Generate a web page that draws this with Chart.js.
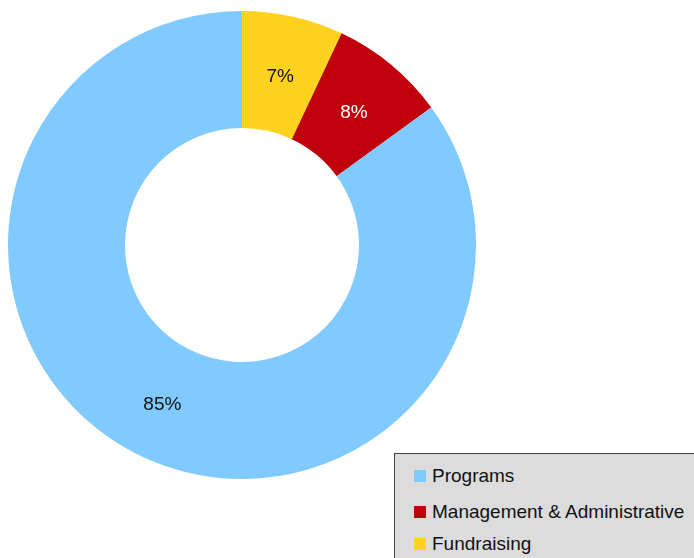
<!DOCTYPE html>
<html>
<head>
<meta charset="utf-8">
<script src="https://cdn.jsdelivr.net/npm/chart.js@4"></script>
<style>
  html, body { margin: 0; padding: 0; background: #fff; overflow: hidden; }
  #wrap { position: relative; width: 694px; height: 558px; }
  #legend {
    position: absolute; left: 394px; top: 453px; width: 320px; height: 130px;
    background: #dcdcdc; border: 1px solid #444; box-sizing: border-box;
    font-family: "Liberation Sans", Arial, sans-serif; font-size: 19px; color: #111;
  }
  #legend div { position: absolute; left: 19px; white-space: nowrap; line-height: 22px; }
  #legend span { display: inline-block; width: 12px; height: 12px; margin-right: 6px; vertical-align: 0px; }
</style>
</head>
<body>
<div id="wrap">
  <canvas id="chart" width="694" height="558"></canvas>
  <div id="legend"></div>
</div>
<script>
const chart = document.querySelector('#chart');
// drawn clockwise from 12 o'clock
const labels = ['Fundraising', 'Management & Administrative', 'Programs'];
const data = [7, 8, 85];
const colors = ['#ffd21f', '#c0000a', '#80caff'];
const labelColors = ['#111', '#fff', '#111'];

const sliceLabels = {
    id: 'sliceLabels',
    afterDatasetsDraw(c) {
        const ctx = c.ctx;
        const meta = c.getDatasetMeta(0);
        ctx.save();
        ctx.font = '19px "Liberation Sans", Arial, sans-serif';
        ctx.textAlign = 'center';
        ctx.textBaseline = 'middle';
        meta.data.forEach((arc, i) => {
            const p = arc.tooltipPosition();
            ctx.fillStyle = labelColors[i];
            ctx.fillText(data[i] + '%', p.x, p.y + 3);
        });
        ctx.restore();
    }
};

new Chart(chart, {
    type: 'doughnut',
    data: {
        labels: labels,
        datasets: [
            {
                data: data,
                backgroundColor: colors,
                borderWidth: 0
            }
        ]
    },
    options: {
        responsive: false,
        animation: false,
        cutout: '50%',
        layout: { padding: { left: 8, top: 11, right: 218, bottom: 79 } },
        plugins: {
            legend: { display: false },
            tooltip: { enabled: false }
        }
    },
    plugins: [sliceLabels]
});

// legend listed in reverse order
const legend = document.querySelector('#legend');
const tops = [11, 47, 79];
labels.slice().reverse().forEach((name, k) => {
    const i = labels.length - 1 - k;
    const row = document.createElement('div');
    row.style.top = tops[k] + 'px';
    row.innerHTML = '<span style="background:' + colors[i] + '"></span>' + name.replace('&', '&amp;');
    legend.appendChild(row);
});
</script>
</body>
</html>
